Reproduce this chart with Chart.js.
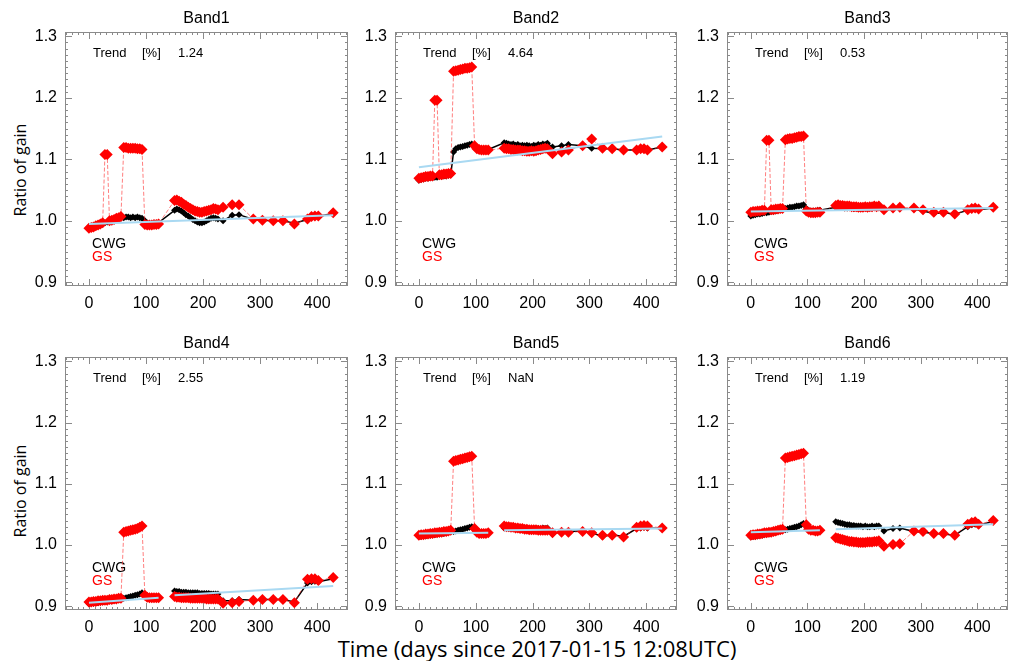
<!DOCTYPE html>
<html>
<head>
<meta charset="utf-8">
<script src="https://cdn.jsdelivr.net/npm/chart.js@4.4.1/dist/chart.umd.min.js"></script>
<style>
  body { margin: 0; background: #fff; width: 1011px; height: 661px; position: relative; overflow: hidden; }
  canvas { position: absolute; }
  .xtitle { position: absolute; left: 537px; top: 635px; transform: translateX(-50%); white-space: nowrap;
            font-family: "Open Sans", sans-serif; font-size: 22px; line-height: 26px; color: #000; }
  .ytitle { position: absolute; white-space: nowrap; font-family: "Open Sans", sans-serif; font-size: 16px;
            line-height: 18px; color: #000; transform: translate(-50%, -50%) rotate(-90deg); }
</style>
</head>
<body>
<div class="ytitle" style="left:20px; top:170px;">Ratio of gain</div>
<div class="ytitle" style="left:20px; top:491px;">Ratio of gain</div>
<div class="xtitle">Time (days since 2017-01-15 12:08UTC)</div>
<script>
// ---- data ----
const bands = ['Band1', 'Band2', 'Band3', 'Band4', 'Band5', 'Band6'];
const trendText = ['1.24', '4.64', '0.53', '2.55', 'NaN', '1.19'];
const xTicks = [0, 100, 200, 300, 400];
const yTicks = [0.9, 1.0, 1.1, 1.2, 1.3];

// days since 2017-01-15 (137 = no data)
const days = [0, 4, 8, 12, 16, 20, 24, 28, 32, 36, 40, 44, 48, 52, 56,
  61, 65, 69, 73, 77, 81, 85, 89, 93,
  98, 102, 106, 110, 114, 118, 122,
  137,
  150, 154, 158, 162, 166, 170, 174, 178, 182, 186, 190, 194, 198, 202, 206, 210, 214, 218, 222, 226,
  235, 251, 263, 288, 304, 323, 340, 360, 383, 390, 396, 402, 428];

const cwg1 = [0.990, 0.991, 0.992, 0.993, 0.994, 0.995, 0.996, 0.997, 0.998, 0.999, 1.000, 1.001, 1.002, 1.003, 1.004,
  1.005, 1.006, 1.006, 1.005, 1.006, 1.005, 1.006, 1.005, 1.004,
  1.000, 0.996, 0.995, 0.995, 0.996, 0.996, 0.997,
  null,
  1.017, 1.019, 1.018, 1.016, 1.013, 1.010, 1.008, 1.005, 1.002, 1.000, 0.998, 0.997, 0.997, 0.998, 1.000, 1.002, 1.004, 1.005, 1.004, 1.003,
  1.000, 1.009, 1.010, 1.002, 1.001, 1.000, 1.000, 0.996, 1.002, 1.006, 1.007, 1.007, 1.012];
const gs1 = [0.988, 0.989, 0.990, 0.992, 0.993, 0.995, 0.997, 1.108, 1.108, 1.000, 1.001, 1.002, 1.004, 1.005, 1.007,
  1.119, 1.119, 1.118, 1.118, 1.118, 1.118, 1.117, 1.117, 1.116,
  0.994, 0.993, 0.993, 0.993, 0.994, 0.994, 0.995,
  null,
  1.033, 1.034, 1.032, 1.030, 1.027, 1.025, 1.022, 1.020, 1.018, 1.016, 1.015, 1.014, 1.014, 1.015, 1.016, 1.017, 1.018, 1.020, 1.019, 1.018,
  1.022, 1.026, 1.026, 1.003, 1.001, 1.000, 1.000, 0.995, 1.003, 1.007, 1.008, 1.008, 1.013];

const cwg2 = [1.066, 1.067, 1.068, 1.069, 1.069, 1.070, 1.070, 1.071, 1.071, 1.072, 1.072, 1.073, 1.073, 1.074, 1.075,
  1.112, 1.117, 1.119, 1.120, 1.121, 1.122, 1.123, 1.124, 1.125,
  1.122, 1.118, 1.116, 1.115, 1.115, 1.115, 1.116,
  null,
  1.127, 1.126, 1.125, 1.124, 1.125, 1.123, 1.124, 1.122, 1.123, 1.122, 1.123, 1.122, 1.121, 1.123, 1.122, 1.124, 1.123, 1.125, 1.124, 1.126,
  1.120, 1.122, 1.124, 1.122, 1.118, 1.117, 1.117, 1.115, 1.115, 1.117, 1.117, 1.115, 1.120];
const gs2 = [1.069, 1.070, 1.071, 1.072, 1.072, 1.073, 1.073, 1.196, 1.196, 1.075, 1.075, 1.076, 1.076, 1.077, 1.077,
  1.243, 1.244, 1.245, 1.246, 1.247, 1.248, 1.248, 1.249, 1.250,
  1.122, 1.117, 1.116, 1.115, 1.115, 1.115, 1.115,
  null,
  1.118, 1.117, 1.117, 1.116, 1.116, 1.115, 1.115, 1.115, 1.114, 1.114, 1.113, 1.113, 1.114, 1.113, 1.114, 1.115, 1.116, 1.117, 1.118, 1.117,
  1.109, 1.112, 1.115, 1.122, 1.133, 1.118, 1.117, 1.115, 1.115, 1.117, 1.117, 1.115, 1.120];

const cwg3 = [1.008, 1.009, 1.010, 1.011, 1.011, 1.012, 1.013, 1.013, 1.014, 1.015, 1.015, 1.016, 1.017, 1.018, 1.019,
  1.020, 1.021, 1.022, 1.022, 1.023, 1.024, 1.024, 1.025, 1.026,
  1.020, 1.017, 1.016, 1.016, 1.016, 1.017, 1.017,
  null,
  1.022, 1.023, 1.022, 1.022, 1.021, 1.021, 1.022, 1.021, 1.020, 1.021, 1.020, 1.021, 1.020, 1.021, 1.020, 1.021, 1.021, 1.022, 1.021, 1.022,
  1.017, 1.019, 1.020, 1.019, 1.016, 1.012, 1.013, 1.011, 1.017, 1.019, 1.019, 1.018, 1.021];
const gs3 = [1.014, 1.015, 1.015, 1.016, 1.016, 1.017, 1.017, 1.131, 1.131, 1.018, 1.018, 1.019, 1.019, 1.020, 1.020,
  1.132, 1.133, 1.134, 1.134, 1.135, 1.136, 1.137, 1.137, 1.138,
  1.016, 1.014, 1.013, 1.013, 1.013, 1.014, 1.014,
  null,
  1.025, 1.026, 1.025, 1.025, 1.024, 1.024, 1.024, 1.023, 1.023, 1.023, 1.022, 1.022, 1.022, 1.023, 1.022, 1.023, 1.023, 1.024, 1.023, 1.024,
  1.018, 1.021, 1.022, 1.021, 1.018, 1.014, 1.014, 1.011, 1.018, 1.020, 1.021, 1.019, 1.022];

const cwg4 = [0.904, 0.905, 0.905, 0.906, 0.906, 0.907, 0.907, 0.908, 0.908, 0.909, 0.909, 0.910, 0.910, 0.911, 0.912,
  0.913, 0.914, 0.915, 0.916, 0.917, 0.918, 0.919, 0.920, 0.922,
  0.918, 0.915, 0.914, 0.914, 0.914, 0.915, 0.915,
  null,
  0.925, 0.924, 0.924, 0.923, 0.923, 0.923, 0.922, 0.922, 0.922, 0.922, 0.922, 0.921, 0.921, 0.921, 0.921, 0.921, 0.920, 0.920, 0.920, 0.920,
  0.909, 0.909, 0.911, 0.910, 0.911, 0.911, 0.911, 0.907, 0.938, 0.940, 0.941, 0.940, 0.945];
const gs4 = [0.907, 0.907, 0.908, 0.908, 0.909, 0.909, 0.910, 0.910, 0.910, 0.911, 0.911, 0.912, 0.912, 0.913, 0.913,
  1.021, 1.022, 1.023, 1.024, 1.025, 1.026, 1.027, 1.029, 1.031,
  0.918, 0.915, 0.914, 0.914, 0.914, 0.914, 0.914,
  null,
  0.916, 0.915, 0.915, 0.914, 0.914, 0.914, 0.914, 0.913, 0.913, 0.913, 0.913, 0.913, 0.913, 0.913, 0.912, 0.912, 0.912, 0.912, 0.912, 0.912,
  0.905, 0.906, 0.908, 0.910, 0.911, 0.911, 0.911, 0.906, 0.944, 0.945, 0.945, 0.942, 0.947];

const cwg5 = [1.014, 1.014, 1.015, 1.015, 1.016, 1.016, 1.017, 1.017, 1.018, 1.018, 1.019, 1.019, 1.020, 1.021, 1.022,
  1.022, 1.023, 1.024, 1.025, 1.026, 1.027, 1.028, 1.029, 1.030,
  1.026, 1.021, 1.019, 1.019, 1.019, 1.019, 1.019,
  null,
  1.028, 1.028, 1.027, 1.027, 1.027, 1.026, 1.026, 1.026, 1.025, 1.025, 1.026, 1.025, 1.025, 1.026, 1.025, 1.027, 1.026, 1.028, 1.027, 1.028,
  1.018, 1.022, 1.022, 1.023, 1.020, 1.014, 1.017, 1.014, 1.027, 1.028, 1.029, 1.028, 1.027];
const gs5 = [1.016, 1.017, 1.017, 1.018, 1.018, 1.019, 1.019, 1.020, 1.020, 1.021, 1.021, 1.022, 1.022, 1.023, 1.024,
  1.137, 1.138, 1.139, 1.140, 1.141, 1.142, 1.143, 1.144, 1.145,
  1.027, 1.021, 1.019, 1.019, 1.019, 1.019, 1.020,
  null,
  1.031, 1.030, 1.030, 1.029, 1.029, 1.028, 1.028, 1.027, 1.027, 1.026, 1.026, 1.025, 1.025, 1.025, 1.025, 1.024, 1.024, 1.024, 1.024, 1.024,
  1.020, 1.021, 1.021, 1.022, 1.020, 1.016, 1.016, 1.013, 1.029, 1.031, 1.032, 1.031, 1.028];

const cwg6 = [1.013, 1.014, 1.014, 1.015, 1.016, 1.016, 1.017, 1.018, 1.018, 1.019, 1.020, 1.021, 1.022, 1.023, 1.024,
  1.025, 1.026, 1.027, 1.028, 1.029, 1.030, 1.031, 1.033, 1.035,
  1.030, 1.025, 1.023, 1.023, 1.023, 1.024, 1.024,
  null,
  1.038, 1.037, 1.036, 1.035, 1.034, 1.033, 1.033, 1.032, 1.032, 1.031, 1.031, 1.031, 1.030, 1.031, 1.030, 1.030, 1.031, 1.030, 1.031, 1.031,
  1.023, 1.027, 1.028, 1.022, 1.021, 1.019, 1.018, 1.016, 1.030, 1.033, 1.034, 1.032, 1.039];
const gs6 = [1.016, 1.017, 1.017, 1.018, 1.018, 1.019, 1.020, 1.020, 1.021, 1.021, 1.022, 1.023, 1.024, 1.025, 1.026,
  1.142, 1.143, 1.144, 1.145, 1.146, 1.147, 1.148, 1.149, 1.150,
  1.033, 1.026, 1.024, 1.024, 1.023, 1.023, 1.024,
  null,
  1.012, 1.011, 1.010, 1.009, 1.008, 1.007, 1.006, 1.006, 1.005, 1.005, 1.004, 1.004, 1.004, 1.004, 1.005, 1.005, 1.005, 1.006, 1.006, 1.007,
  0.998, 1.001, 1.002, 1.023, 1.022, 1.019, 1.019, 1.016, 1.034, 1.037, 1.038, 1.034, 1.040];

// linear trend lines (bottom row: two pieces)
const trendDaysTop = [0, 428];
const trendDaysBottom = [0, 122, 137, 150, 428];
const trend1 = [0.995, 1.009];
const trend2 = [1.087, 1.137];
const trend3 = [1.015, 1.021];
const trend4 = [0.906, 0.914, null, 0.918, 0.933];
const trend5 = [1.019, 1.020, null, 1.024, 1.027];
const trend6 = [1.021, 1.024, null, 1.026, 1.034];

// ---- layout ----
const panels = [
  { title: bands[0], trend: trendText[0], cwg: cwg1, gs: gs1, tDays: trendDaysTop, tVals: trend1, box: [65, 32, 283, 254], join: true },
  { title: bands[1], trend: trendText[1], cwg: cwg2, gs: gs2, tDays: trendDaysTop, tVals: trend2, box: [395, 32, 282, 254], join: true },
  { title: bands[2], trend: trendText[2], cwg: cwg3, gs: gs3, tDays: trendDaysTop, tVals: trend3, box: [727, 32, 281, 254], join: true },
  { title: bands[3], trend: trendText[3], cwg: cwg4, gs: gs4, tDays: trendDaysBottom, tVals: trend4, box: [65, 357, 283, 253], join: false },
  { title: bands[4], trend: trendText[4], cwg: cwg5, gs: gs5, tDays: trendDaysBottom, tVals: trend5, box: [395, 357, 282, 253], join: false },
  { title: bands[5], trend: trendText[5], cwg: cwg6, gs: gs6, tDays: trendDaysBottom, tVals: trend6, box: [727, 357, 281, 253], join: false }
];

const toPoints = (xs, ys) => xs.map((d, i) => ({ x: d, y: ys[i] }));

Chart.defaults.font.family = '"Liberation Sans", Arial, sans-serif';
Chart.defaults.font.size = 16;
Chart.defaults.color = '#000';

// IDL style box with inward ticks + annotations
const framePlugin = {
  id: 'frame',
  beforeDatasetsDraw(chart, args, opts) {
    const { ctx, chartArea: a, scales: { x, y } } = chart;
    ctx.save();
    ctx.strokeStyle = '#8a8a8a';
    ctx.lineWidth = 1;
    ctx.strokeRect(a.left + 0.5, a.top + 0.5, a.width - 1, a.height - 1);
    ctx.beginPath();
    for (let d = -40; d <= 450; d += 10) {
      const px = Math.round(x.getPixelForValue(d)) + 0.5;
      const len = d % 100 === 0 ? 7 : 3;
      ctx.moveTo(px, a.bottom); ctx.lineTo(px, a.bottom - len);
      ctx.moveTo(px, a.top); ctx.lineTo(px, a.top + len);
    }
    for (let k = 90; k <= 130; k++) {
      const py = Math.round(y.getPixelForValue(k / 100)) + 0.5;
      const len = k % 10 === 0 ? 7 : 3;
      ctx.moveTo(a.left, py); ctx.lineTo(a.left + len, py);
      ctx.moveTo(a.right, py); ctx.lineTo(a.right - len, py);
    }
    ctx.stroke();

    ctx.textBaseline = 'middle';
    ctx.textAlign = 'center';
    ctx.fillStyle = '#000';
    ctx.font = '16px "Liberation Sans", Arial, sans-serif';
    ctx.fillText(opts.title, (a.left + a.right) / 2, a.top - 13);

    ctx.textAlign = 'left';
    ctx.font = '13px "Liberation Sans", Arial, sans-serif';
    ctx.fillText('Trend', a.left + 28, a.top + 21);
    ctx.fillText('[%]', a.left + 77, a.top + 21);
    ctx.fillText(opts.trend, a.left + 113, a.top + 21);

    ctx.font = '14px "Liberation Sans", Arial, sans-serif';
    ctx.fillText('CWG', a.left + 27, a.bottom - 42);
    ctx.fillStyle = '#ff0000';
    ctx.fillText('GS', a.left + 27, a.bottom - 29);
    ctx.restore();
  }
};

panels.forEach(p => {
  const [l, t, w, h] = p.box;
  const canvas = document.createElement('canvas');
  canvas.width = w + 68;
  canvas.height = h + 62;
  canvas.style.left = (l - 65) + 'px';
  canvas.style.top = (t - 32) + 'px';
  document.body.appendChild(canvas);

  new Chart(canvas.getContext('2d'), {
    type: 'line',
    data: {
      datasets: [
        {
          label: 'trend',
          data: toPoints(p.tDays, p.tVals),
          borderColor: '#a9d9f2',
          borderWidth: 2,
          pointRadius: 0,
          spanGaps: false
        },
        {
          label: 'GS',
          data: toPoints(days, p.gs),
          borderColor: 'rgba(255, 40, 40, 0.6)',
          borderWidth: 1,
          borderDash: [4, 2],
          pointStyle: 'rectRot',
          pointRadius: 5.5,
          pointBackgroundColor: '#ff0000',
          pointBorderWidth: 0,
          spanGaps: p.join
        },
        {
          label: 'CWG',
          data: toPoints(days, p.cwg),
          borderColor: '#000',
          borderWidth: 1.5,
          pointStyle: 'rectRot',
          pointRadius: 3.5,
          pointBackgroundColor: '#000',
          pointBorderWidth: 0,
          spanGaps: p.join
        }
      ]
    },
    options: {
      responsive: false,
      animation: false,
      events: [],
      layout: { autoPadding: false, padding: { top: 32, left: 0, right: 3, bottom: 0 } },
      plugins: {
        legend: { display: false },
        tooltip: { enabled: false },
        frame: { title: p.title, trend: p.trend }
      },
      scales: {
        x: {
          type: 'linear',
          min: -42,
          max: 454,
          grid: { display: false, drawTicks: false, tickLength: 0 },
          border: { display: false },
          afterBuildTicks: s => { s.ticks = xTicks.map(v => ({ value: v })); },
          afterFit: s => { s.height = 30; s.paddingLeft = 0; s.paddingRight = 0; },
          ticks: { padding: 8, font: { size: 16 }, callback: v => String(v) }
        },
        y: {
          type: 'linear',
          min: 0.894,
          max: 1.307,
          grid: { display: false, drawTicks: false, tickLength: 0 },
          border: { display: false },
          afterBuildTicks: s => { s.ticks = yTicks.map(v => ({ value: v })); },
          afterFit: s => { s.width = 65; s.paddingTop = 0; s.paddingBottom = 0; },
          ticks: { padding: 8, font: { size: 16 }, callback: v => v.toFixed(1) }
        }
      }
    },
    plugins: [framePlugin]
  });
});
</script>
</body>
</html>
